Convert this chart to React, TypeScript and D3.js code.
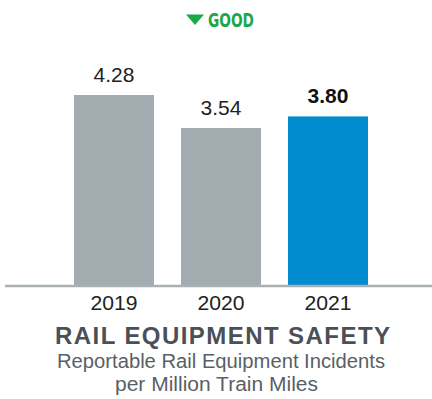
import React from "react";
import * as d3 from "d3";

const years = ["2019", "2020", "2021"];
const values = [4.28, 3.54, 3.8];
const valueLabels = ["4.28", "3.54", "3.80"];
const highlight = [false, false, true];
const title = "RAIL EQUIPMENT SAFETY";
const subtitle = ["Reportable Rail Equipment Incidents", "per Million Train Miles"];
const indicator = "GOOD";

const W = 432;
const H = 399;

export default function App() {
  const baseline = 286;
  const x = d3
    .scaleBand<string>()
    .domain(years)
    .range([60.5, 381.5])
    .paddingInner(27 / 107)
    .paddingOuter(27 / 214);
  const y = d3.scaleLinear().domain([0, 4.28]).range([baseline, 95]);
  const font = "'Liberation Sans', Arial, sans-serif";
  return (
    <svg
      width={W}
      height={H}
      style={{ position: "absolute", left: 0, top: 0, background: "#fff" }}
    >
      <g>
        <path d="M186,14.5 L204,14.5 L195,25 Z" fill="#1aa84b" />
        <text
          x={208}
          y={27}
          fill="#1aa84b"
          fontFamily="'DejaVu Sans Condensed', 'DejaVu Sans', sans-serif"
          fontStretch="condensed"
          fontWeight="bold"
          fontSize={17.5}
          textLength={46}
          lengthAdjust="spacingAndGlyphs"
          transform="translate(208,27) scale(1,1.08) translate(-208,-27)"
        >
          {indicator}
        </text>
      </g>
      {years.map((yr, i) => (
        <g key={yr}>
          <rect
            x={x(yr)}
            y={y(values[i])}
            width={x.bandwidth()}
            height={baseline - y(values[i])}
            fill={highlight[i] ? "#008ccf" : "#a3acb1"}
          />
          <text
            x={(x(yr) as number) + x.bandwidth() / 2}
            y={y(values[i]) - 13}
            textAnchor="middle"
            fontFamily={font}
            fontSize={21}
            fontWeight={highlight[i] ? "bold" : "normal"}
            fill={highlight[i] ? "#111" : "#222"}
          >
            {valueLabels[i]}
          </text>
          <text
            x={(x(yr) as number) + x.bandwidth() / 2}
            y={310}
            textAnchor="middle"
            fontFamily={font}
            fontSize={20}
            fill="#222"
            textLength={47}
            lengthAdjust="spacingAndGlyphs"
          >
            {yr}
          </text>
        </g>
      ))}
      <line x1={5} x2={432} y1={baseline} y2={baseline} stroke="#a9b1b5" strokeWidth={2.5} />
      <text
        x={222.5}
        y={344}
        textAnchor="middle"
        fontFamily={font}
        fontWeight="bold"
        fontSize={24}
        fill="#4b5057"
        textLength={335}
        lengthAdjust="spacing"
      >
        {title}
      </text>
      <text
        x={221}
        y={368}
        textAnchor="middle"
        fontFamily={font}
        fontSize={20}
        fill="#5a5f66"
        textLength={328}
        lengthAdjust="spacingAndGlyphs"
      >
        {subtitle[0]}
      </text>
      <text
        x={216.5}
        y={391}
        textAnchor="middle"
        fontFamily={font}
        fontSize={20}
        fill="#5a5f66"
        textLength={203}
        lengthAdjust="spacingAndGlyphs"
      >
        {subtitle[1]}
      </text>
    </svg>
  );
}
